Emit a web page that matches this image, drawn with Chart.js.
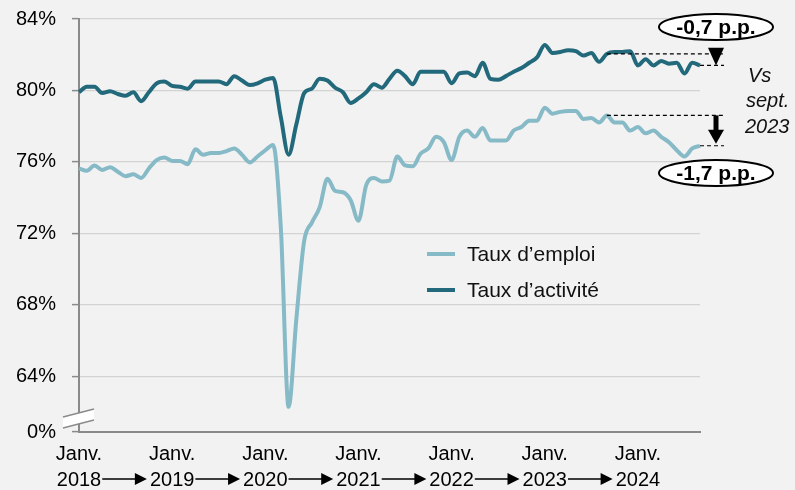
<!DOCTYPE html>
<html lang="fr">
<head>
<meta charset="utf-8">
<script src="https://cdn.jsdelivr.net/npm/chart.js@4.4.1/dist/chart.umd.min.js"></script>
<style>
    html, body { margin: 0; padding: 0; background: #f2f2f2; }
    #wrap { width: 795px; height: 490px; position: relative; }
</style>
</head>
<body>
<div id="wrap"><canvas id="chart"></canvas></div>
<script>
const years  = ["2018", "2019", "2020", "2021", "2022", "2023", "2024"];
const months = ["janv.", "févr.", "mars", "avr.", "mai", "juin", "juil.", "août", "sept.", "oct.", "nov.", "déc."];

// Jan 2018 -> Sept 2024, monthly (%)
const tauxEmploi = [
    75.63, 75.5, 75.8, 75.55, 75.7, 75.45, 75.2, 75.3, 75.1, 75.63, 76.1, 76.25,
    76.05, 76.05, 75.87, 76.7, 76.4, 76.5, 76.5, 76.6, 76.75, 76.4, 75.97, 76.3,
    76.65, 76.95, 72.3, 62.28, 67.2, 71.55, 72.6, 73.45, 75.05, 74.37, 74.3, 73.85,
    72.7, 74.7, 75.1, 74.9, 74.95, 76.3, 75.8, 75.75, 76.45, 76.75, 77.4, 77.1,
    76.1, 77.4, 77.75, 77.4, 77.9, 77.2, 77.2, 77.2, 77.75, 77.95, 78.3, 78.3,
    79.03, 78.7, 78.8, 78.85, 78.85, 78.4, 78.45, 78.2, 78.6, 78.2, 78.2, 77.75,
    77.95, 77.6, 77.75, 77.4, 77.1, 76.65, 76.3, 76.75, 76.9
];
const tauxActivite = [
    79.9, 80.2, 80.2, 79.85, 79.95, 79.8, 79.7, 79.9, 79.4, 79.9, 80.4, 80.5,
    80.25, 80.2, 80.1, 80.5, 80.5, 80.5, 80.5, 80.35, 80.8, 80.55, 80.3, 80.4,
    80.6, 80.7, 78.5, 76.4, 78.1, 79.85, 80.1, 80.65, 80.55, 80.15, 79.9, 79.3,
    79.55, 79.9, 80.35, 80.15, 80.65, 81.1, 80.8, 80.35, 81.05, 81.05, 81.05, 81.05,
    80.4, 80.95, 81.0, 80.8, 81.55, 80.65, 80.6, 80.8, 81.05, 81.25, 81.55, 81.85,
    82.55, 82.1, 82.15, 82.25, 82.2, 81.95, 82.1, 81.6, 82.05, 82.15, 82.15, 82.2,
    81.4, 81.75, 81.4, 81.65, 81.5, 81.55, 80.95, 81.55, 81.4
];
const labels = years.flatMap(y => months.map(m => `${m} ${y}`)).slice(0, tauxEmploi.length);

const yTicks   = [64, 68, 72, 76, 80, 84];
const yMin     = 60.87;   // broken axis, shown as 0%
const refIndex = 68;      // sept. 2023
const lastIdx  = tauxEmploi.length - 1;

const colEmploi   = "#87bac7";
const colActivite = "#22697b";
const FONT = "'Liberation Sans', Arial, sans-serif";

/* year arrows on the second label line */
const yearArrows = {
    id: "yearArrows",
    afterDraw(chart) {
        const { ctx, scales: { x } } = chart;
        ctx.save();
        ctx.font = `20px ${FONT}`;
        ctx.strokeStyle = "#000";
        ctx.fillStyle = "#000";
        ctx.lineWidth = 1.3;
        const yy = 479;
        for (let k = 0; k < years.length - 1; k++) {
            const x0 = x.getPixelForValue(k * 12) + ctx.measureText(years[k]).width / 2 + 1;
            const x1 = x.getPixelForValue((k + 1) * 12) - ctx.measureText(years[k + 1]).width / 2 - 3;
            ctx.beginPath();
            ctx.moveTo(x0, yy);
            ctx.lineTo(x1 - 11, yy);
            ctx.stroke();
            ctx.beginPath();
            ctx.moveTo(x1 - 12, yy - 6);
            ctx.lineTo(x1, yy);
            ctx.lineTo(x1 - 12, yy + 6);
            ctx.closePath();
            ctx.fill();
        }
        ctx.restore();
    }
};

/* axis break near the bottom of the y axis */
const axisBreak = {
    id: "axisBreak",
    afterDraw(chart) {
        const { ctx } = chart;
        ctx.save();
        ctx.fillStyle = "#ffffff";
        ctx.beginPath();
        ctx.moveTo(63, 417); ctx.lineTo(94, 409); ctx.lineTo(94, 420); ctx.lineTo(63, 428);
        ctx.closePath();
        ctx.fill();
        ctx.strokeStyle = "#8a8a8a";
        ctx.lineWidth = 1.3;
        ctx.beginPath();
        ctx.moveTo(63, 417); ctx.lineTo(94, 409);
        ctx.moveTo(63, 428); ctx.lineTo(94, 420);
        ctx.stroke();
        ctx.restore();
    }
};

/* legend inside the plot */
const innerLegend = {
    id: "innerLegend",
    afterDraw(chart) {
        const { ctx } = chart;
        ctx.save();
        ctx.font = `21px ${FONT}`;
        ctx.textBaseline = "middle";
        chart.data.datasets.forEach((ds, i) => {
            const yy = 254 + i * 36;
            ctx.strokeStyle = ds.borderColor;
            ctx.lineWidth = 4;
            ctx.beginPath();
            ctx.moveTo(427, yy); ctx.lineTo(455, yy);
            ctx.stroke();
            ctx.fillStyle = "#111";
            ctx.fillText(ds.label, 467, yy + 1);
        });
        ctx.restore();
    }
};

/* gap annotations vs sept. 2023 */
function bubble(ctx, cx, cy, text) {
    ctx.beginPath();
    ctx.ellipse(cx, cy, 57, 13, 0, 0, Math.PI * 2);
    ctx.fillStyle = "#fff";
    ctx.fill();
    ctx.lineWidth = 2;
    ctx.strokeStyle = "#000";
    ctx.stroke();
    ctx.fillStyle = "#000";
    ctx.font = `bold 21px ${FONT}`;
    ctx.textAlign = "center";
    ctx.textBaseline = "middle";
    ctx.fillText(text, cx, cy + 1);
}

const gapNotes = {
    id: "gapNotes",
    afterDraw(chart) {
        const { ctx, scales: { x, y } } = chart;
        const xr = x.getPixelForValue(refIndex);
        const xl = x.getPixelForValue(lastIdx);
        const xe = 724, xa = 716;
        ctx.save();
        ctx.strokeStyle = "#000";
        ctx.lineWidth = 1.2;
        ctx.setLineDash([4, 3]);
        const a0 = y.getPixelForValue(tauxActivite[refIndex]);
        const a1 = y.getPixelForValue(tauxActivite[lastIdx]);
        const e0 = y.getPixelForValue(tauxEmploi[refIndex]);
        const e1 = y.getPixelForValue(tauxEmploi[lastIdx]);
        ctx.beginPath();
        ctx.moveTo(xr, a0); ctx.lineTo(xe, a0);
        ctx.moveTo(xl, a1); ctx.lineTo(xe, a1);
        ctx.moveTo(xr, e0); ctx.lineTo(xe, e0);
        ctx.moveTo(xl, e1); ctx.lineTo(xe, e1);
        ctx.stroke();
        ctx.setLineDash([]);

        ctx.fillStyle = "#000";
        // activity arrow (head only)
        ctx.beginPath();
        ctx.moveTo(xa - 8, a0 - 6); ctx.lineTo(xa + 8, a0 - 6); ctx.lineTo(xa, a1);
        ctx.closePath();
        ctx.fill();
        // employment arrow
        ctx.fillRect(xa - 2.5, e0, 5, (e1 - e0) - 14);
        ctx.beginPath();
        ctx.moveTo(xa - 8, e1 - 16); ctx.lineTo(xa + 8, e1 - 16); ctx.lineTo(xa, e1 - 2);
        ctx.closePath();
        ctx.fill();

        bubble(ctx, 716, 27, "-0,7 p.p.");
        bubble(ctx, 716, 173, "-1,7 p.p.");

        ctx.font = `italic 20px ${FONT}`;
        ctx.textAlign = "left";
        ctx.textBaseline = "middle";
        ctx.fillStyle = "#111";
        ctx.fillText("Vs", 748, 76);
        ctx.fillText("sept.", 746, 101);
        ctx.fillText("2023", 745, 127);
        ctx.restore();
    }
};

new Chart(document.getElementById("chart"), {
    type: "line",
    data: {
        labels: labels,
        datasets: [
            {
                label: "Taux d’emploi",
                data: tauxEmploi,
                borderColor: colEmploi,
                borderWidth: 4,
                pointRadius: 0,
                cubicInterpolationMode: "monotone",
            },
            {
                label: "Taux d’activité",
                data: tauxActivite,
                borderColor: colActivite,
                borderWidth: 4,
                pointRadius: 0,
                cubicInterpolationMode: "monotone",
            }
        ]
    },
    options: {
        responsive: true,
        maintainAspectRatio: false,
        animation: false,
        layout: { padding: { top: 19, right: 95, bottom: 0, left: 0 } },
        plugins: { legend: { display: false }, tooltip: { enabled: false } },
        scales: {
            x: {
                offset: false,
                grid: { display: false },
                border: { display: true, color: "#8a8a8a", width: 2 },
                afterFit(scale) { scale.height = 58; scale.paddingTop = 0; scale.paddingBottom = 0; },
                ticks: {
                    autoSkip: false,
                    maxRotation: 0,
                    minRotation: 0,
                    padding: 1,
                    color: "#000",
                    font: { family: FONT, size: 20, lineHeight: 1.3 },
                    callback: (v, i) => i % 12 === 0 ? ["Janv.", years[i / 12]] : ""
                }
            },
            y: {
                min: yMin,
                max: 84,
                afterBuildTicks(scale) {
                    scale.ticks = [yMin, ...yTicks].map(v => ({ value: v }));
                },
                afterFit(scale) { scale.width = 79; scale.paddingTop = 0; scale.paddingBottom = 0; },
                grid: { color: "#d3d3d3", lineWidth: 1.2, tickLength: 7, tickColor: "#8a8a8a", tickWidth: 1.5 },
                border: { display: true, color: "#8a8a8a", width: 2 },
                ticks: {
                    padding: 16,
                    color: "#000",
                    font: { family: FONT, size: 20 },
                    callback: v => v === yMin ? "0%" : `${v}%`
                }
            }
        }
    },
    plugins: [yearArrows, axisBreak, innerLegend, gapNotes]
});
</script>
</body>
</html>
